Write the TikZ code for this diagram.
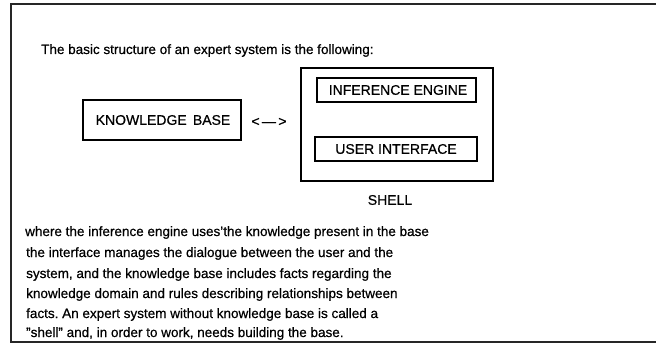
\documentclass[tikz,border=0pt]{standalone}
\usepackage{fontspec}
\setmainfont[FakeBold=0.6]{Liberation Sans}
\frenchspacing
\begin{document}
\begin{tikzpicture}[x=1pt,y=-1pt,
  box/.style={draw, line width=1.3pt, inner sep=0pt},
  txt/.style={anchor=base west, inner sep=0pt, font=\fontsize{13.5}{15}\selectfont},
  lbl/.style={inner sep=0pt, font=\fontsize{14}{16}\selectfont}]
\useasboundingbox (0,0) rectangle (656,345);
% frame open to the right
\draw[line width=2pt, color=black!85] (656,4) -- (11,4) -- (11,342) -- (656,342);
\node[txt] (title) at (41,54) {The basic structure of an expert system is the following:};
% boxes
\draw[box] (83,100) rectangle (241,140);
\node[lbl] (kb) at (163,120) {KNOWLEDGE\ \,BASE};
\draw[box] (301,68) rectangle (493,181);
\draw[box] (317,78) rectangle (476,102);
\node[lbl] (ie) at (398,90) {INFERENCE ENGINE};
\draw[box] (315,137) rectangle (477,161);
\node[lbl] (ui) at (396,149) {USER INTERFACE};
\node[lbl] (shell) at (390,200) {SHELL};
\node[lbl, anchor=center] (arr) at (269,122) {<\,---\,>};
% paragraph
\node[txt] (p1) at (25,236) {where the inference engine uses\char"27the knowledge present in the base};
\node[txt] (p2) at (26,257) {the interface manages the dialogue between the user and the};
\node[txt] (p3) at (26,278) {system, and the knowledge base includes facts regarding the};
\node[txt] (p4) at (26,298) {knowledge domain and rules describing relationships between};
\node[txt] (p5) at (26,318) {facts. An expert system without knowledge base is called a};
\node[txt] (p6) at (26,337) {\char"22shell\char"22{} and, in order to work, needs building the base.};
\end{tikzpicture}
\end{document}
